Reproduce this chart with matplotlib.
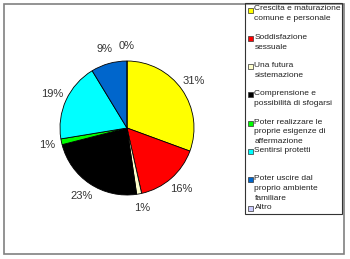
import matplotlib.pyplot as plt
from matplotlib.patches import Rectangle

plt.rcParams['font.family'] = ['Liberation Sans', 'DejaVu Sans']

labels = [
    "Crescita e maturazione\ncomune e personale",
    "Soddisfazione\nsessuale",
    "Una futura\nsistemazione",
    "Comprensione e\npossibilità di sfogarsi",
    "Poter realizzare le\nproprie esigenze di\naffermazione",
    "Sentirsi protetti",
    "Poter uscire dal\nproprio ambiente\nfamiliare",
    "Altro",
]
values = [30.6, 15.9, 1.2, 23.3, 1.4, 18.9, 8.7, 0.0]
colors = ['#FFFF00', '#FF0000', '#FFFFCC', '#000000', '#00FF00',
          '#00FFFF', '#0066CC', '#CCCCFF']

W, H = 350, 259


def px(x, y):
    return x / W, 1 - y / H


fig = plt.figure(figsize=(W / 100, H / 100), dpi=100)

# outer chart frame
x0, y0 = px(4, 254)
fig.patches.append(Rectangle((x0, y0), 340 / W, 250 / H, transform=fig.transFigure,
                             fill=False, edgecolor='#808080', linewidth=1.2))

# pie
cx, cy, r = 127, 128, 67
ax = fig.add_axes([(cx - r) / W, (H - cy - r) / H, 2 * r / W, 2 * r / H])
ax.pie(values, colors=colors, startangle=90, counterclock=False,
       autopct=lambda p: f'{p:.0f}%', pctdistance=1.22,
       wedgeprops=dict(edgecolor='black', linewidth=0.6),
       textprops=dict(fontsize=8, color='#333333'))
ax.set_xlim(-1, 1)
ax.set_ylim(-1, 1)
ax.set_aspect('equal')
ax.axis('off')

# legend box
lx, ly = px(245, 214)
fig.patches.append(Rectangle((lx, ly), 97 / W, 211 / H, transform=fig.transFigure,
                             fill=False, edgecolor='#333333', linewidth=0.8))

step = 28.3
for i, (lab, col) in enumerate(zip(labels, colors)):
    yc = 10 + i * step
    mx, my = px(247.5, yc + 2.5)
    fig.patches.append(Rectangle((mx, my), 5 / W, 5 / H, transform=fig.transFigure,
                                 facecolor=col, edgecolor='#333333', linewidth=0.5))
    tx, ty = px(254.5, yc - 4.5)
    fig.text(tx, ty, lab, fontsize=6, va='top', ha='left', linespacing=1.55,
             color='#222222')

fig.savefig('out.png', dpi=100)
